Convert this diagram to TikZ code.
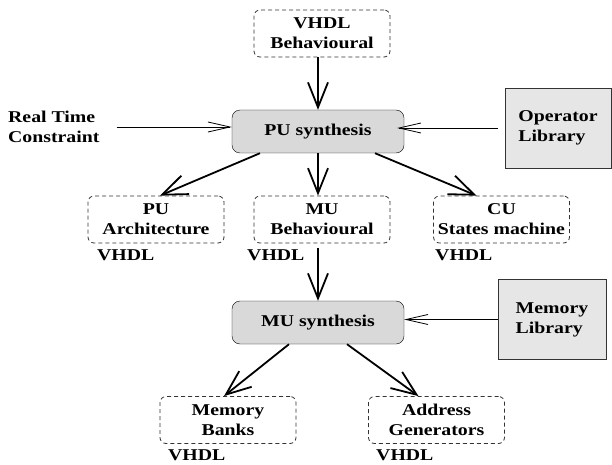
\documentclass[tikz,border=0pt]{standalone}
\usepackage{fontspec}
\newfontfamily\figfont[FakeStretch=1.2]{Liberation Serif}
\usepackage{tikz}
\usetikzlibrary{arrows.meta, calc, positioning}
\definecolor{BoxGray}{HTML}{D9D9D9}
\definecolor{LibGray}{HTML}{E6E6E6}
\definecolor{DashGray}{HTML}{333333}

\begin{document}
\begin{tikzpicture}[
    x=1pt, y=-1pt,
    every node/.style={font={\fontsize{16.5}{20}\figfont\bfseries}},
    vhdlbox/.style={draw=DashGray, line width=0.8pt, dash pattern=on 4pt off 3pt,
                    rounded corners=6pt,
                    minimum width=136pt, minimum height=47pt,
                    align=center, inner sep=0pt},
    synth/.style={draw, fill=BoxGray, rounded corners=8pt,
                  minimum width=172pt, minimum height=43pt, inner sep=0pt},
    lib/.style={draw=black!80, fill=LibGray, minimum height=80pt,
                align=left, inner sep=0pt},
    tag/.style={anchor=west, inner sep=0pt},
    flow/.style={-{Straight Barb[length=25pt, width=20pt]}, line width=1.8pt},
    feed/.style={-{Straight Barb[length=22pt, width=10pt]}, line width=0.8pt}
  ]
    \useasboundingbox (0,0) rectangle (612,465);

    % Level 1: PU synthesis and its inputs
    \node[vhdlbox] (vbeh)   at (322, 33.5) {VHDL\\Behavioural};
    \node[synth]   (pusyn)  at (318,131.5) {PU synthesis};
    \node[tag, align=left] (rtc) at (8,127) {Real Time\\Constraint};
    \node[lib, minimum width=106pt] (oplib) at (558,128) {Operator\\Library};

    % Level 2: PU synthesis outputs
    \node[vhdlbox] (parch)  at (156,219.5)   {PU\\Architecture};
    \node[vhdlbox] (mubeh)  at (322,219.5)   {MU\\Behavioural};
    \node[vhdlbox] (cufsm)  at (501.5,219.5) {CU\\States machine};
    \node[tag] (vhdl1) at (97,255)  {VHDL};
    \node[tag] (vhdl2) at (247,255) {VHDL};
    \node[tag] (vhdl3) at (435,255) {VHDL};

    % Level 3: MU synthesis
    \node[synth] (musyn) at (318,322.5) {MU synthesis};
    \node[lib, minimum width=108pt] (memlib) at (552,319.5) {Memory\\Library};

    % Level 4: MU synthesis outputs
    \node[vhdlbox] (mbank) at (228,420)   {Memory\\Banks};
    \node[vhdlbox] (agen)  at (436.5,420) {Address\\Generators};
    \node[tag] (vhdl4) at (168,455) {VHDL};
    \node[tag] (vhdl5) at (376,455) {VHDL};

    % Arrows into PU synthesis
    \draw[flow] (pusyn.north |- vbeh.south) -- (pusyn.north);
    \draw[feed] ([xshift=17pt]rtc.east) -- (rtc.east -| pusyn.west);
    \draw[feed] ([xshift=-7pt]oplib.west) -- ([xshift=-7pt]oplib.west -| pusyn.east);

    % Arrows out of PU synthesis
    \draw[flow] ([xshift=-58pt]pusyn.south) -- ([xshift=4pt]parch.north);
    \draw[flow] (pusyn.south) -- (pusyn.south |- mubeh.north);
    \draw[flow] ([xshift=57pt]pusyn.south) -- ([xshift=-25pt]cufsm.north);

    % MU synthesis
    \draw[flow] ([yshift=-5pt]mubeh.south -| musyn.north) -- (musyn.north);
    \draw[feed] (memlib.west) -- (memlib.west -| musyn.east);
    \draw[flow] ([xshift=-29pt]musyn.south) -- ([xshift=-4pt]mbank.north);
    \draw[flow] ([xshift=29pt]musyn.south) -- ([xshift=-18pt]agen.north);
  \end{tikzpicture}
\end{document}
